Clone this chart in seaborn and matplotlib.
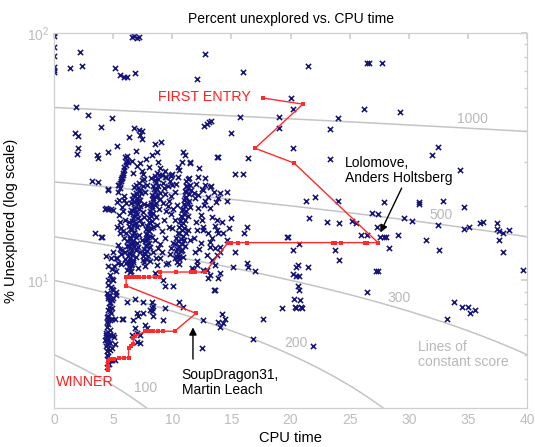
import numpy as np
import pandas as pd
import matplotlib
matplotlib.use("Agg")
import matplotlib.pyplot as plt
import seaborn as sns
from matplotlib.ticker import LogLocator, NullFormatter, MultipleLocator

# sparse entries (CPU time, % unexplored)
sparse_pts = [
    (0, 100), (0, 97), (0, 88), (0, 81), (0, 73), (0, 71), (0, 69.5),
    (2.2, 84), (2.4, 73.5), (1.35, 72), (1.9, 50), (2.9, 46.6), (4.0, 41.7), (4.9, 45.3),
    (1.8, 39.4), (2.0, 38.2), (2.0, 34.2), (1.95, 32.4), (3.6, 32.1), (3.7, 31.2), (4.6, 33),
    (5.3, 34.9), (3.2, 25.2), (4.55, 23.4), (5.15, 72), (5.6, 67.6), (5.9, 66.3), (6.2, 66.3),
    (6.85, 68.9), (6.6, 96.3), (7.0, 95.5), (7.2, 96.3), (6.8, 97), (6.3, 37.9), (6.8, 41.3),
    (7.2, 40.5), (7.4, 40.1), (7.3, 38.6), (7.4, 37.3), (9.05, 36.2), (8.3, 32.1), (12.1, 65),
    (12.8, 82.2), (16, 69.5), (12.7, 42), (12.9, 42.9), (13.1, 43.7), (13.3, 44), (15.7, 45.7),
    (15, 39.4), (13.8, 31.5), (13.9, 31.5), (16.4, 31.2), (11.1, 32.1), (11.5, 30.1),
    (12.3, 28.4), (10.5, 28.6), (9.1, 26.6), (9.5, 26.1), (9.9, 26.6), (15.3, 26.8), (16.0, 26.8),
    (6.7, 27.1),
    (21.5, 73.5), (26.5, 75.6), (26.6, 75.6), (27.7, 75.6), (20, 54.6), (20.2, 49.2), (19.0, 45.7),
    (24, 45.3), (26.2, 49.2), (29.3, 47.9), (23.3, 40.9), (19, 41.3), (20.2, 34.2), (32.5, 34.5),
    (32.0, 32.1), (23.3, 30.9), (34.3, 27.9), (21.3, 20.9), (22.1, 21.7), (24, 20.9), (21.6, 17.8),
    (23.1, 17.2), (24.1, 17.0), (25.2, 17.3), (25.5, 17.0), (26.9, 18.8), (27.4, 18.6), (27.9, 20.7),
    (29.6, 17.8), (30.3, 17.3), (30.9, 20.7), (30.9, 20.3), (32.9, 20.9), (34.7, 19.8), (32.5, 16.8),
    (35.1, 16.5), (34.7, 16.1), (36.0, 17.0), (36.3, 17.2), (37.5, 17.0), (37.5, 16.1), (38.5, 15.9),
    (37.6, 15.8), (38.0, 15.6),
    (26.0, 15.3), (26.5, 15.2), (27.3, 16.4), (27.6, 14.9), (27.9, 14.9), (28.1, 14.9), (29.1, 15.2),
    (28.3, 13.5), (31.5, 14.5), (32.6, 13.3), (19.7, 14.9), (19.8, 14.9), (20.2, 13.3), (20.7, 14.0),
    (23.8, 13.3), (24.1, 12.1), (20.6, 11.5), (20.5, 11.3), (21.5, 11.3), (20.2, 10.6), (20.5, 10.4),
    (20.7, 10.4), (27.2, 10.9), (27.4, 10.9), (20.6, 9.5), (20.7, 9.1), (26.5, 9.0), (20.3, 8.4),
    (20.8, 8.3), (19.3, 7.7), (20.4, 7.8), (20.5, 7.7), (20.9, 7.8), (21.0, 7.7), (33.8, 8.2),
    (34.5, 7.8), (35.0, 7.8), (35.2, 7.4), (35.6, 7.6), (33.2, 7.0), (21.9, 5.4), (37.6, 14.5),
    (38.0, 13.0), (39.7, 11.0),
    (16.8, 5.8), (17.0, 10.9), (17.7, 7.0), (13.5, 9.1), (12.9, 11.0), (13.2, 10.5), (14.0, 10.7),
    (15.1, 11.3), (16.4, 11.3), (16.3, 11.8), (15.3, 13.0), (13.8, 12.7), (16.3, 16.4), (16.1, 15.5),
    (8.3, 8.15), (9.4, 7.7), (10.6, 8.15), (10.9, 7.8), (9.2, 6.9), (8.3, 7.5), (8.4, 7.2),
    (12.6, 6.9), (14.2, 7.3), (13.9, 6.8), (14.3, 6.7), (14.0, 6.5), (14.5, 7.0), (12.5, 5.3),
    (6.17, 8.15), (6.85, 8.4), (7.52, 8.15), (7.0, 7.35), (7.1, 7.2), (7.5, 7.35), (8.1, 7.58),
    (8.3, 7.7), (8.4, 7.9), (5.83, 6.98), (6.68, 6.91), (6.85, 6.4), (7.0, 6.1), (7.27, 6.0),
    (7.7, 6.6), (7.86, 6.4), (7.0, 5.64), (7.27, 5.6), (6.6, 5.98),
    (3.5, 15.6), (4.0, 15.0), (4.05, 14.9), (4.4, 12.5), (4.8, 12.3), (5.3, 12.3), (5.7, 11.6),
    (5.1, 11.4), (4.6, 11.4), (4.9, 11.1), (4.7, 10.5), (4.9, 10.1), (4.6, 10.0), (5.0, 10.0),
    (5.2, 10.9), (6.4, 10.8), (6.1, 11.7), (5.6, 13.4), (5.75, 13.3), (5.0, 13.0), (5.2, 12.3),
    (5.4, 11.7), (4.3, 19.5), (4.4, 19.6), (4.6, 19.4), (4.8, 19.5), (5.0, 19.3), (4.6, 23.2),
    (5.4, 22.7), (5.5, 21.1), (5.75, 19.8), (3.7, 24.9),
]

# the tall stack at the lower left
stack_pts = [
    (4.9, 9.2), (5.0, 9.1), (5.2, 9.0), (4.7, 8.7), (5.0, 8.5), (5.2, 8.7), (4.6, 8.6), (4.56, 8.5),
    (4.82, 8.4), (4.9, 8.3), (4.73, 8.1), (4.65, 7.8), (4.9, 7.7), (4.73, 7.5), (4.56, 7.2),
    (4.48, 7.1), (4.56, 6.98), (4.73, 6.91), (4.48, 6.8), (4.56, 6.67), (4.9, 7.0), (5.16, 7.0),
    (5.75, 6.98), (4.4, 6.0), (4.48, 5.94), (4.73, 5.98), (4.99, 6.0), (5.07, 5.88), (4.31, 5.73),
    (4.56, 5.64), (4.73, 5.6), (4.48, 5.5), (4.9, 5.33), (4.56, 5.33), (5.16, 5.5), (4.48, 5.16),
    (4.56, 4.93), (4.73, 4.76), (4.65, 4.6), (4.9, 4.76), (5.16, 4.76), (4.48, 4.46), (4.6, 9.6),
    (4.8, 9.4), (4.5, 8.9), (4.7, 8.2), (4.6, 7.6), (4.8, 7.4), (4.5, 6.5), (4.7, 6.3), (4.6, 6.2),
    (4.4, 6.1), (4.6, 5.8), (4.4, 5.4), (4.7, 5.2), (4.5, 5.0), (4.6, 4.6),
]

# dense vertical streaks in the middle
streak_pts = [
    (6.0, 31.4), (6.2, 30.8), (6.25, 30.0), (6.1, 29.2), (5.9, 27.9), (5.8, 27.1), (5.75, 26.1),
    (5.7, 25.6), (5.6, 24.8), (5.75, 25.9), (5.4, 24.2), (5.5, 24.2),
    (7.4, 25.5), (7.2, 24.8), (7.5, 24.1), (7.1, 23.6), (7.3, 23.0), (6.9, 22.6), (7.2, 22.0),
    (7.0, 21.6), (7.3, 21.1), (6.8, 20.7), (7.1, 20.3), (6.9, 19.8), (7.2, 19.4), (6.7, 19.0),
    (7.0, 18.6), (6.8, 18.2), (7.1, 17.8), (6.6, 17.4), (6.9, 17.1), (6.7, 16.7), (7.0, 16.4),
    (6.5, 16.0), (6.8, 15.7), (6.6, 15.3), (6.9, 15.0), (6.4, 14.7), (6.7, 14.4), (6.5, 14.1),
    (6.8, 13.8), (6.4, 13.5), (6.6, 13.2), (6.3, 12.9), (6.6, 12.6), (6.4, 12.3), (6.7, 12.1),
    (6.3, 11.8), (6.5, 11.5), (6.4, 11.2), (6.2, 11.0), (6.6, 11.6), (6.9, 12.4), (7.1, 13.6),
    (7.2, 15.2), (7.4, 16.9), (7.5, 18.9), (7.6, 20.4), (6.2, 13.8), (6.1, 15.6), (6.3, 17.2),
    (6.4, 18.8), (6.5, 20.6), (6.7, 22.2), (6.8, 23.8),
    (8.7, 27.2), (8.5, 26.3), (8.8, 25.6), (8.6, 24.9), (8.4, 24.1), (8.7, 23.5), (8.5, 22.9),
    (8.3, 22.2), (8.6, 21.7), (8.4, 21.1), (8.2, 20.6), (8.5, 20.1), (8.3, 19.6), (8.1, 19.1),
    (8.4, 18.7), (8.2, 18.2), (8.0, 17.8), (8.3, 17.4), (8.1, 17.0), (7.9, 16.6), (8.2, 16.2),
    (8.0, 15.8), (7.8, 15.4), (8.1, 15.1), (7.9, 14.7), (7.7, 14.4), (8.0, 14.1), (7.8, 13.8),
    (7.6, 13.4), (7.9, 13.1), (7.7, 12.8), (7.5, 12.5), (7.8, 12.2), (7.6, 11.9), (9.0, 22.5),
    (8.9, 19.5), (8.7, 16.8), (8.5, 14.6), (9.2, 24.8), (9.0, 28.5), (8.8, 30.2), (8.7, 33.0),
    (8.5, 35.5),
    (11.4, 26.0), (11.2, 25.2), (11.5, 24.4), (11.3, 23.7), (11.1, 23.0), (11.4, 22.4), (11.2, 21.8),
    (11.0, 21.2), (11.3, 20.6), (11.1, 20.0), (10.9, 19.5), (11.2, 19.0), (11.0, 18.5), (10.8, 18.0),
    (11.1, 17.6), (10.9, 17.1), (10.7, 16.7), (11.0, 16.3), (10.8, 15.9), (10.6, 15.5), (10.9, 15.1),
    (10.7, 14.7), (10.5, 14.4), (10.8, 14.0), (10.6, 13.7), (10.4, 13.4), (10.7, 13.1), (10.5, 12.8),
    (10.3, 12.5), (10.6, 12.2), (10.4, 11.9), (10.6, 11.6), (11.6, 23.2), (11.5, 19.8), (11.3, 16.0),
    (11.1, 13.8), (10.9, 12.4),
]

# second pass over the streaks, where the entries pile up
streak_extra_pts = [
    (6.95, 24.3), (7.15, 23.2), (6.85, 21.9), (7.05, 21.0), (6.75, 19.6), (6.95, 18.9), (6.65, 17.9),
    (6.85, 16.9), (6.55, 16.3), (6.75, 15.5), (6.45, 15.0), (6.65, 14.2), (6.35, 13.7), (6.55, 13.0),
    (6.25, 12.5), (6.45, 12.0), (6.35, 11.4), (7.25, 20.0), (7.35, 22.6), (6.6, 21.4), (6.5, 19.3),
    (6.3, 16.6), (6.2, 14.4), (7.0, 14.1), (7.3, 17.6), (6.9, 13.2), (6.7, 11.9), (6.5, 10.9),
    (8.55, 25.5), (8.45, 23.3), (8.35, 21.5), (8.25, 19.9), (8.15, 18.5), (8.05, 17.2), (7.95, 16.0),
    (7.85, 14.9), (7.75, 13.9), (7.65, 12.9), (7.55, 12.1), (8.75, 22.2), (8.65, 20.5), (8.6, 18.0),
    (8.4, 16.4), (8.25, 15.0), (8.1, 13.6), (7.95, 12.5), (8.9, 26.6), (8.8, 24.0),
    (11.35, 25.6), (11.25, 24.0), (11.15, 22.7), (11.05, 21.5), (10.95, 20.3), (10.85, 19.2),
    (10.75, 18.2), (10.65, 17.3), (10.55, 16.4), (10.45, 15.6), (10.35, 14.8), (10.25, 14.0),
    (10.35, 13.1), (10.2, 12.3), (11.45, 21.0), (11.35, 18.2), (11.2, 15.5), (11.0, 14.5),
    (10.8, 13.3), (10.6, 12.5),
    (6.05, 30.2), (5.95, 28.6), (5.85, 26.7), (5.65, 25.3), (5.55, 23.6), (6.15, 31.9),
]

fill_pts = [
    (5.9, 22.0), (6.1, 20.5), (5.8, 19.0), (6.0, 17.5), (5.7, 16.2), (5.9, 14.8), (6.0, 13.0),
    (5.6, 15.5), (5.5, 18.3), (5.3, 20.8), (7.7, 22.8), (7.9, 20.2), (7.6, 18.0), (7.8, 16.1),
    (7.4, 14.6), (7.3, 13.0), (7.7, 11.4), (7.1, 11.2), (8.1, 12.0), (8.4, 13.0), (8.6, 12.3),
    (8.8, 13.5), (9.0, 14.0), (9.1, 15.8), (9.3, 17.5), (9.5, 19.0), (9.2, 20.6), (9.4, 22.3),
    (9.6, 24.0), (9.8, 25.3), (9.7, 21.0), (9.9, 18.5), (10.0, 16.3), (10.1, 14.2), (9.8, 12.8),
    (9.5, 11.6), (10.2, 22.8), (10.4, 20.2), (10.3, 24.6), (10.0, 27.0), (10.6, 28.0), (12.0, 24.5),
    (11.9, 21.5), (12.2, 19.6), (12.0, 17.2), (11.8, 14.8), (12.3, 13.4), (12.1, 12.0), (11.7, 11.2),
    (12.6, 16.5), (12.8, 21.0), (12.5, 23.5), (13.0, 15.6), (13.4, 14.8), (13.2, 13.6), (13.6, 13.5),
    (14.0, 13.0), (13.6, 16.6), (14.2, 17.2), (14.6, 14.5), (13.2, 19.6), (13.7, 20.7), (14.0, 22.5),
    (7.5, 26.8), (8.0, 28.8), (7.3, 29.7), (7.8, 31.0), (6.6, 30.5), (6.9, 33.2), (7.0, 29.0),
    (8.2, 26.0), (9.4, 27.8), (10.8, 30.2), (12.8, 26.0), (13.3, 24.0), (14.6, 21.0), (15.0, 17.8),
    (12.5, 17.5), (12.6, 15.9), (13.8, 15.9), (13.9, 15.5), (13.2, 14.3), (11.5, 14.5), (11.9, 13.0),
    (14.0, 13.6), (13.4, 12.1), (13.6, 11.5), (12.1, 11.5), (11.75, 11.0), (12.6, 11.0), (13.0, 10.2),
    (13.9, 10.2), (13.6, 9.1), (10.06, 9.5), (9.4, 9.5), (9.2, 10.0), (8.7, 11.5), (8.96, 12.3),
    (9.6, 11.8), (8.5, 10.7), (10.9, 33.0), (11.5, 29.8), (9.4, 26.1), (9.9, 26.3), (10.5, 26.1),
    (12.2, 26.1), (11.2, 24.0), (12.8, 24.2), (12.6, 23.2), (13.2, 23.8), (13.5, 22.7), (14.6, 22.7),
    (11.8, 22.5), (12.2, 22.1), (13.0, 21.7), (13.9, 21.5),
    (9.0, 21.4), (9.3, 23.6), (9.6, 20.0), (9.9, 22.0), (10.1, 19.4), (10.2, 17.5), (9.7, 16.4),
    (9.4, 14.8), (9.1, 13.0), (9.9, 13.5), (10.0, 24.2), (12.4, 18.3), (12.7, 20.2), (12.1, 16.0),
    (12.4, 14.2), (12.9, 12.7), (13.4, 18.0), (13.8, 17.6), (14.3, 15.6), (14.8, 16.3), (7.4, 27.8),
    (7.6, 25.6), (7.9, 24.2), (5.9, 21.2), (5.6, 17.2), (5.8, 15.8), (6.0, 12.2), (5.7, 12.8),
    (5.4, 13.9), (5.3, 16.5),
]

# leader's progress from first entry to winner
leader_t = [17.67, 21.05, 17.0, 20.3, 27.4, 26.5, 26.3, 24.3, 23.8, 23.6, 16.3, 15.6, 15.0, 14.7,
            12.8, 11.9, 11.6, 10.3, 9.0, 9.0, 8.5, 8.0, 7.6, 7.2, 6.9, 6.6, 6.3, 6.1, 6.1,
            12.0, 10.2, 9.2, 8.8, 8.4, 8.0, 7.7, 6.85, 6.7, 6.7, 6.5, 6.3, 6.3, 5.9, 5.5, 5.1,
            4.73, 4.6, 4.6, 4.6]
leader_u = [54.6, 51.6, 34.2, 29.8, 14.2, 14.2, 14.2, 14.2, 14.2, 14.2, 14.2, 14.2, 14.2, 14.2,
            10.8, 10.8, 10.8, 10.8, 10.8, 10.3, 10.3, 10.3, 10.3, 10.3, 10.3, 10.3, 10.3, 10.3, 9.5,
            7.35, 6.22, 6.22, 6.22, 6.22, 6.22, 6.22, 5.94, 5.85, 5.5, 5.4, 5.3, 4.87, 4.85, 4.83, 4.82,
            4.82, 4.7, 4.5, 4.35]

score_levels = [100, 200, 300, 500, 1000]
score_label_pos = [(7.7, 3.65), (20.5, 5.6), (29.2, 8.5), (32.7, 18.4), (35.4, 44.9)]

pts = pd.DataFrame(sparse_pts + stack_pts + streak_pts + streak_extra_pts + fill_pts,
                   columns=["cpu", "unexplored"])
leader = pd.DataFrame({"cpu": leader_t, "unexplored": leader_u})

sns.set_theme(style="white")
plt.rcParams["font.family"] = ["Liberation Sans", "DejaVu Sans"]
plt.rcParams["mathtext.default"] = "regular"

fig = plt.figure(figsize=(5.35, 4.47), dpi=100)
ax = fig.add_axes([0.101, 0.087, 0.884, 0.839])

gray = "#c4c4c4"
tgrid = np.linspace(0, 40, 400)
for s in score_levels:
    # score = 20 * unexplored + 5 * cpu time
    u = (s - 5 * tgrid) / 20.0
    ok = u > 0
    ax.plot(tgrid[ok], u[ok], color=gray, lw=1.1, zorder=1)
for s, (lx, ly) in zip(score_levels, score_label_pos):
    ax.text(lx, ly, str(s), color="#b8b8b8", fontsize=10, ha="center", va="center")

sns.scatterplot(data=pts, x="cpu", y="unexplored", marker="x", color="#14147a",
                s=14, linewidth=1.15, ax=ax, zorder=2)
sns.lineplot(data=leader, x="cpu", y="unexplored", sort=False, estimator=None,
             color="#ff2a2a", lw=1.0, marker="s", markersize=2.6, markeredgewidth=0,
             ax=ax, zorder=3)

ax.set_yscale("log")
ax.set_xlim(0, 40)
ax.set_ylim(3.04, 100)
ax.xaxis.set_major_locator(MultipleLocator(5))
ax.yaxis.set_major_locator(LogLocator(base=10))
ax.yaxis.set_minor_locator(LogLocator(base=10, subs=np.arange(2, 10)))
ax.yaxis.set_minor_formatter(NullFormatter())

for sp in ax.spines.values():
    sp.set_color("#cfcfcf")
    sp.set_linewidth(0.9)
ax.tick_params(which="both", direction="in", top=True, right=True, color="#cfcfcf",
               labelcolor="#bdbdbd", labelsize=10)
ax.tick_params(which="major", length=4)
ax.tick_params(which="minor", length=2.5)

ax.set_title("Percent unexplored vs. CPU time", fontsize=10, color="black", pad=7)
ax.set_xlabel("CPU time", fontsize=10.5, color="black", labelpad=3)
ax.set_ylabel("% Unexplored (log scale)", fontsize=10.5, color="black", labelpad=6)

ax.text(16.65, 55.1, "FIRST ENTRY", color="#ff2020", fontsize=10.3, ha="right", va="center")
ax.text(0.2, 3.87, "WINNER", color="#ff2020", fontsize=10.3, ha="left", va="center")
ax.text(30.8, 5.0, "Lines of\nconstant score", color="#b8b8b8", fontsize=10,
        ha="left", va="center", linespacing=1.1)
ax.text(24.6, 27.9, "Lolomove,\nAnders Holtsberg", color="black", fontsize=10,
        ha="left", va="center", linespacing=1.1)
ax.text(10.8, 3.87, "SoupDragon31,\nMartin Leach", color="black", fontsize=10,
        ha="left", va="center", linespacing=1.1)
arrow = dict(arrowstyle="-|>", color="black", lw=1.0, mutation_scale=11, shrinkA=0, shrinkB=0)
ax.annotate("", xy=(27.6, 15.6), xytext=(29.4, 23.6), arrowprops=arrow)
ax.annotate("", xy=(11.75, 6.45), xytext=(11.75, 4.8), arrowprops=arrow)

fig.savefig("out.png", dpi=100)
